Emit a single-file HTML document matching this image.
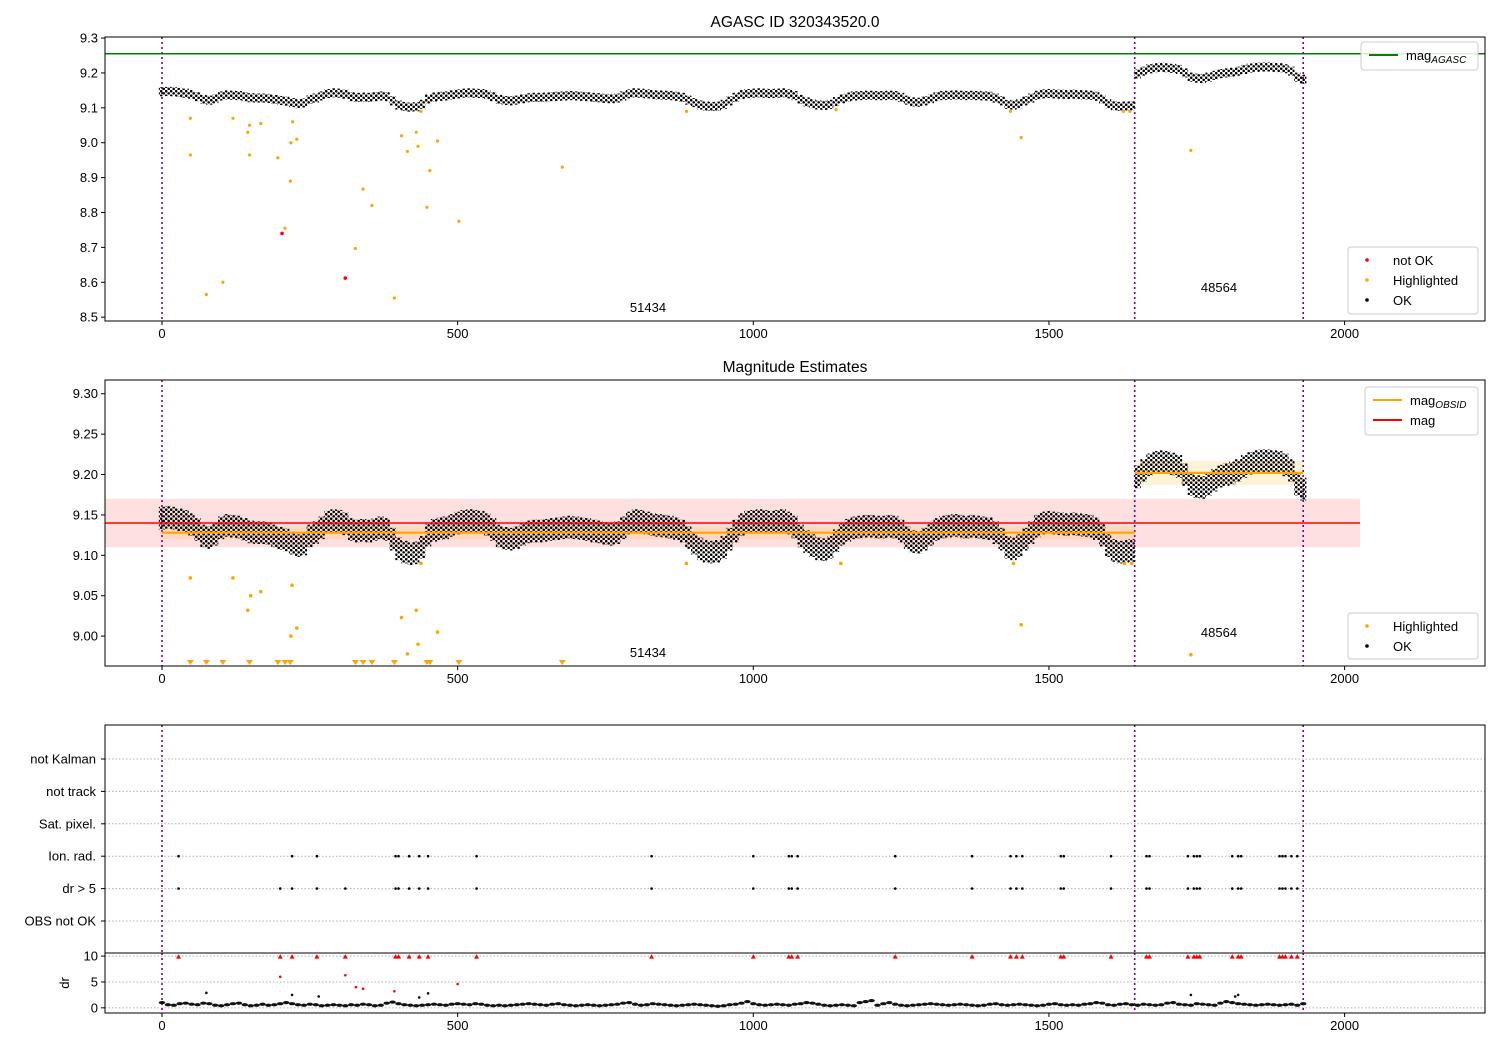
<!DOCTYPE html>
<html><head><meta charset="utf-8"><style>
body{margin:0;background:#fff;}
svg{display:block;font-family:"Liberation Sans","DejaVu Sans",sans-serif;}
</style></head><body>
<svg id="fig" width="1500" height="1050" viewBox="0 0 1500 1050" xmlns="http://www.w3.org/2000/svg">
<defs>
<pattern id="speckle" patternUnits="userSpaceOnUse" width="5" height="4.5">
<circle cx="1.2" cy="1.2" r="1.3" fill="#000"/>
<circle cx="3.7" cy="3.4" r="1.3" fill="#000"/>
</pattern>
</defs>
<rect width="1500" height="1050" fill="#fff"/>
</svg>
<script>
// ---- data ----
const magStart = 0, magStep = 10;
const magValues = [
9.146,9.147,9.146,9.144,9.142, 9.138,9.132, 9.124,9.122,9.126, 9.134,9.137,9.136,9.135,9.132,
9.129,9.128,9.128,9.127,9.124, 9.121,9.119,9.115, 9.112,9.114, 9.124,9.128,9.134, 9.141,9.143,9.142,9.139,
9.132,9.130,9.131,9.130,9.132, 9.134,9.132,9.120, 9.108,9.104, 9.102,9.103,9.110,
9.125,9.131,9.133,9.134,9.137, 9.140,9.142,9.143,9.142,9.141,9.138,9.132,
9.124,9.121,9.120,9.122,9.126, 9.129,9.130,9.130,9.131,9.132, 9.133,9.134,9.135,9.134,9.133,9.132,9.130,9.129,
9.127,9.126,9.128,9.134,9.140,9.143, 9.142,9.140,9.138,9.137,9.136,9.135,9.133,9.130,
9.122,9.115, 9.108,9.105,9.104,9.105,9.110, 9.120,9.130,
9.138,9.141,9.142,9.143,9.142,9.141,9.142,9.143,9.140,9.135, 9.124,9.117,9.112, 9.108,9.107,9.110,9.118,
9.126,9.131,9.134,9.135,9.136,9.136,9.135,9.135,9.136,9.135,9.130, 9.122,9.117,9.116,9.120,9.126,
9.132,9.135,9.136,9.137,9.136,9.135,9.136,9.135,9.134,9.133,9.128,9.120, 9.110,9.108,9.112, 9.120,9.128,
9.136,9.140,9.141,9.140,9.139,9.138,9.139,9.138,9.137,9.136,9.133,9.125, 9.112,9.106,9.104,9.105,9.106,
9.197,9.205, 9.212,9.215,9.216,9.215,9.213,9.210,9.200, 9.188,9.185,9.184,9.188,9.193,
9.198,9.200,9.202,9.205,9.210, 9.214,9.216,9.217,9.217,9.216,9.215,9.212,9.205, 9.188,9.182];
const hl1X = [48,48,75,103,120,145,148,148,167,196,208,217,218,221,228,327,340,355,393,405,415,430,433,438,448,453,466,502,677,887,1140,1435,1453,1626,1637,1740];
const hl1Y = [9.07,8.965,8.565,8.60,9.07,9.03,9.05,8.965,9.055,8.957,8.755,8.89,9.0,9.06,9.01,8.697,8.867,8.82,8.555,9.02,8.975,9.03,8.99,9.09,8.815,8.92,9.005,8.775,8.93,9.09,9.095,9.09,9.015,9.09,9.09,8.978];
const notOkX = [203,310];
const notOkY = [8.74,8.612];
const hl2X = [48,120,145,150,167,218,220,228,405,415,430,433,438,466,887,1148,1440,1453,1628,1640,1740];
const hl2Y = [9.072,9.072,9.032,9.05,9.055,9.0,9.063,9.01,9.023,8.978,9.032,8.99,9.09,9.005,9.09,9.09,9.09,9.014,9.09,9.09,8.977];
const clipX = [48,75,103,148,196,208,217,327,340,355,393,448,453,502,677];
const magAgasc = 9.255;
const magMean = 9.14, magStd = 0.03;
const obsStart = [0,1645], obsEnd = [1645,1930], obsMag = [9.128,9.202], obsStd = [0.008,0.015];
const obsBounds = [0,1645,1930];
const obsIds = ["51434","48564"];
const flagCats = ["OBS not OK","dr > 5","Ion. rad.","Sat. pixel.","not track","not Kalman"];
const ionX = [28,220,262,395,400,418,435,450,532,828,1000,1060,1065,1075,1240,1370,1435,1445,1455,1520,1525,1605,1665,1670,1735,1745,1750,1755,1810,1820,1825,1890,1895,1900,1910,1920];
const dr5X = [28,200,220,262,310,395,400,418,435,450,532,828,1000,1060,1065,1075,1240,1370,1435,1445,1455,1520,1525,1605,1665,1670,1735,1745,1750,1755,1810,1820,1825,1890,1895,1900,1910,1920];
const drValues = [1.0,0.6,0.5,0.8,0.9,0.7,0.6,0.9,0.8,0.5,0.4,0.6,0.8,0.9,0.6,0.4,0.5,0.7,0.5,0.6,0.8,1.0,0.8,0.6,0.5,0.7,0.6,0.4,0.5,0.6,0.5,0.4,0.6,0.5,0.7,0.6,0.4,0.5,0.9,1.1,0.8,0.6,0.5,0.4,0.5,0.6,0.7,0.6,0.5,0.7,0.8,0.7,0.6,0.8,0.7,0.5,0.4,0.5,0.4,0.5,0.6,0.7,0.8,0.7,0.6,0.5,0.7,0.8,0.6,0.5,0.4,0.5,0.6,0.5,0.4,0.5,0.6,0.7,0.9,1.0,0.7,0.5,0.6,0.8,0.7,0.6,0.5,0.4,0.5,0.6,0.7,0.6,0.5,0.4,0.3,0.4,0.6,0.7,0.9,1.2,0.8,0.6,0.5,0.6,0.7,0.6,0.5,0.7,0.8,1.0,0.9,0.7,0.5,0.4,0.5,0.6,0.5,0.4,1.0,1.2,1.4,0.5,0.8,1.0,0.7,0.5,0.4,0.5,0.6,0.7,0.8,0.7,0.6,0.5,0.6,0.7,0.6,0.5,0.4,0.5,0.7,0.8,0.6,0.5,0.6,0.7,0.6,0.5,0.4,0.5,0.7,0.8,0.6,0.5,0.6,0.5,0.7,0.8,1.0,0.9,0.6,0.5,0.7,0.8,0.6,0.5,0.7,0.6,0.5,0.6,0.9,1.0,0.7,0.6,0.5,0.8,0.7,0.6,0.5,0.9,1.2,1.0,0.8,0.7,0.6,0.5,0.6,0.7,0.6,0.5,0.6,0.7,0.5,0.8];
const drHighX = [75,220,265,435,450,1740,1815,1820];
const drHighY = [2.9,2.5,2.2,2.0,2.8,2.5,2.2,2.5];
const drRedX = [200,310,328,340,393,500];
const drRedY = [6.0,6.3,4.0,3.7,3.2,4.6];
const xTicks = [0,500,1000,1500,2000];
const y1Ticks = [8.5,8.6,8.7,8.8,8.9,9.0,9.1,9.2,9.3];
const y2Ticks = [9.00,9.05,9.10,9.15,9.20,9.25,9.30];
const y4Ticks = [0,5,10];

// ---- scales ----
const L = 105, R = 1485;
const X = x => 162 + x * 0.5913;
const lin = (d0, d1, p0, p1) => v => p0 + (v - d0) * (p1 - p0) / (d1 - d0);
const P1 = {top:37, bot:321, y: lin(8.489, 9.303, 321, 37)};
const P2 = {top:380, bot:666, y: lin(8.963, 9.317, 666, 380)};
const P3 = {top:725, bot:953, y: i => 921 - i * 32.4};
const P4 = {top:953, bot:1013, y: lin(-1, 10.6, 1013, 953)};

const svg = document.getElementById('fig');
const NS = 'http://www.w3.org/2000/svg';
function el(tag, attrs, parent) {
  const e = document.createElementNS(NS, tag);
  for (const k in attrs) e.setAttribute(k, attrs[k]);
  (parent || svg).appendChild(e);
  return e;
}
function group(name) {
  const g = el('g', {});
  
  
  return g;
}
function text(g, x, y, s, anchor, size, name) {
  const t = el('text', {x:x, y:y, 'text-anchor':anchor||'middle', 'font-size':size||13, fill:'#000'}, g);
  t.textContent = s;
  
  
  return t;
}
function clipFor(id, P) {
  const cp = el('clipPath', {id:id});
  el('rect', {x:L, y:P.top, width:R-L, height:P.bot-P.top}, cp);
}
clipFor('c1', P1); clipFor('c2', P2); clipFor('c3', P3); clipFor('c4', P4);

function xAxis(P, labels, name) {
  const g = group(name);
  xTicks.forEach(t => {
    el('line', {x1:X(t), x2:X(t), y1:P.bot, y2:P.bot+4, stroke:'#000', 'stroke-width':1}, g);
    if (labels) text(g, X(t), P.bot+17, String(t), 'middle', 13, 'x-tick-label');
  });
}
function yAxis(P, ticks, fmt, name) {
  const g = group(name);
  ticks.forEach(t => {
    const y = P.y(t);
    el('line', {x1:L-4, x2:L, y1:y, y2:y, stroke:'#000'}, g);
    text(g, L-7, y+4.5, fmt(t), 'end', 13, 'y-tick-label');
  });
}
function frame(P, name) {
  const r = el('rect', {x:L, y:P.top, width:R-L, height:P.bot-P.top, fill:'none', stroke:'#000', 'stroke-width':1});
  
  
}
function vlines(P, clip) {
  const g = group('obs-boundaries');
  obsBounds.forEach(b => el('line', {x1:X(b), x2:X(b), y1:P.top, y2:P.bot, stroke:'#800080', 'stroke-width':1.6, 'stroke-dasharray':'2,3', 'clip-path':'url(#'+clip+')'}, g));
}
function okPoints(P, spread, clip) {
  const g = group('ok-points');
  const w = magStep * 0.5913 + 0.4;
  magValues.forEach((v, i) => {
    const y0 = P.y(v + spread), y1 = P.y(v - spread);
    el('rect', {x:X(magStart + i*magStep) - w/2, y:y0, width:w, height:y1-y0, fill:'url(#speckle)', 'clip-path':'url(#'+clip+')'}, g);
  });
}
function dots(xs, ys, P, color, r, name) {
  const g = group(name);
  xs.forEach((x, i) => el('circle', {cx:X(x), cy:P.y(ys[i]), r:r, fill:color}, g));
}
function legend(x, y, w, h, entries, name) {
  const g = group(name);
  el('rect', {x:x, y:y, width:w, height:h, rx:3, fill:'#fff', 'fill-opacity':0.85, stroke:'#ccc'}, g);
  entries.forEach((e, i) => {
    const cy = y + 13 + i*20;
    if (e.type === 'line') el('line', {x1:x+8, x2:x+37, y1:cy, y2:cy, stroke:e.color, 'stroke-width':2}, g);
    else el('circle', {cx:x+19, cy:cy, r:1.8, fill:e.color}, g);
    const t = text(g, x+45, cy+5, e.label, 'start', 13, 'legend-entry');
    if (e.sub) { const ts = el('tspan', {'font-size':10, 'font-style':'italic', dy:3}, t); ts.textContent = e.sub; }
  });
}

// ---- Panel 1 ----
text(svg, 795, 27, 'AGASC ID 320343520.0', 'middle', 15.5, 'top-chart-title');
el('line', {x1:L, x2:R, y1:P1.y(magAgasc), y2:P1.y(magAgasc), stroke:'#008000', 'stroke-width':1.6});
vlines(P1, 'c1');
okPoints(P1, 0.013, 'c1');
dots(hl1X, hl1Y, P1, '#ffa500', 1.6, 'highlighted-points');
dots(notOkX, notOkY, P1, '#ff0000', 1.8, 'not-ok-points');
text(svg, 648, 312, obsIds[0], 'middle', 13, 'obsid-label');
text(svg, 1219, 292, obsIds[1], 'middle', 13, 'obsid-label');
frame(P1, 'top-axes');
xAxis(P1, true, 'x-axis-top');
yAxis(P1, y1Ticks, v => v.toFixed(1), 'y-axis-top');
legend(1361, 42, 117, 28, [{type:'line', color:'#008000', label:'mag', sub:'AGASC'}], 'legend-agasc');
legend(1348, 247, 130, 67, [{type:'dot', color:'#ff0000', label:'not OK'},{type:'dot', color:'#ffa500', label:'Highlighted'},{type:'dot', color:'#000', label:'OK'}], 'legend-points-top');

// ---- Panel 2 ----
text(svg, 795, 372, 'Magnitude Estimates', 'middle', 15.5, 'middle-chart-title');
el('rect', {x:L, y:P2.y(magMean+magStd), width:X(2026)-L, height:P2.y(magMean-magStd)-P2.y(magMean+magStd), fill:'#ff0000', 'fill-opacity':0.12});
obsStart.forEach((s, i) => {
  el('rect', {x:X(s), y:P2.y(obsMag[i]+obsStd[i]), width:X(obsEnd[i])-X(s), height:P2.y(obsMag[i]-obsStd[i])-P2.y(obsMag[i]+obsStd[i]), fill:'#ffa500', 'fill-opacity':0.15});
});
vlines(P2, 'c2');
okPoints(P2, 0.014, 'c2');
el('line', {x1:L, x2:X(2026), y1:P2.y(magMean), y2:P2.y(magMean), stroke:'#ff0000', 'stroke-width':1.6});
obsStart.forEach((s, i) => el('line', {x1:X(s), x2:X(obsEnd[i]), y1:P2.y(obsMag[i]), y2:P2.y(obsMag[i]), stroke:'#ffa500', 'stroke-width':2.2}));
dots(hl2X, hl2Y, P2, '#ffa500', 1.8, 'highlighted-points');
const tri = group('clipped-highlighted');
clipX.forEach(x => el('path', {d:`M${X(x)-3.5},${P2.bot-6} L${X(x)+3.5},${P2.bot-6} L${X(x)},${P2.bot-1} Z`, fill:'#ffa500'}, tri));
text(svg, 648, 657, obsIds[0], 'middle', 13, 'obsid-label');
text(svg, 1219, 637, obsIds[1], 'middle', 13, 'obsid-label');
frame(P2, 'middle-axes');
xAxis(P2, true, 'x-axis-middle');
yAxis(P2, y2Ticks, v => v.toFixed(2), 'y-axis-middle');
legend(1365, 387, 113, 48, [{type:'line', color:'#ffa500', label:'mag', sub:'OBSID'},{type:'line', color:'#ff0000', label:'mag'}], 'legend-lines-middle');
legend(1348, 613, 130, 46, [{type:'dot', color:'#ffa500', label:'Highlighted'},{type:'dot', color:'#000', label:'OK'}], 'legend-points-middle');

// ---- Panel 3 ----
const g3 = group('flags-grid');
flagCats.forEach((c, i) => {
  el('line', {x1:L, x2:R, y1:P3.y(i), y2:P3.y(i), stroke:'#b0b0b0', 'stroke-dasharray':'1.5,2'}, g3);
  el('line', {x1:L-4, x2:L, y1:P3.y(i), y2:P3.y(i), stroke:'#000'}, g3);
  text(g3, L-9, P3.y(i)+4.5, c, 'end', 13, 'flag-label');
});
vlines(P3, 'c3');
const gIon = group('ion-rad-flags');
ionX.forEach(x => el('circle', {cx:X(x), cy:P3.y(2), r:1.3, fill:'#000'}, gIon));
const gDr = group('dr5-flags');
dr5X.forEach(x => el('circle', {cx:X(x), cy:P3.y(1), r:1.3, fill:'#000'}, gDr));
frame(P3, 'flags-axes');

// ---- Panel 4 ----
const g4 = group('dr-grid');
y4Ticks.forEach(t => el('line', {x1:L, x2:R, y1:P4.y(t), y2:P4.y(t), stroke:'#b0b0b0', 'stroke-dasharray':'1.5,2'}, g4));
vlines(P4, 'c4');
const gdr = group('dr-points');
drValues.forEach((v, i) => el('ellipse', {cx:X(i*10), cy:P4.y(v), rx:3.2, ry:1.6, fill:'#111'}, gdr));
dots(drHighX, drHighY, P4, '#111', 1.3, 'dr-outliers');
dots(drRedX, drRedY, P4, '#ff0000', 1.3, 'dr-red-points');
const gTri = group('dr-clipped');
dr5X.forEach(x => el('path', {d:`M${X(x)-2.5},${P4.y(10)+2.5} L${X(x)+2.5},${P4.y(10)+2.5} L${X(x)},${P4.y(10)-2} Z`, fill:'#ff0000'}, gTri));
frame(P4, 'dr-axes');
xAxis(P4, true, 'x-axis-bottom');
yAxis(P4, y4Ticks, v => String(v), 'y-axis-dr');
const yl = text(svg, 0, 0, 'dr', 'middle', 13, 'dr-axis-title');
yl.setAttribute('transform', 'translate(69,983) rotate(-90)');
</script>
</body></html>
